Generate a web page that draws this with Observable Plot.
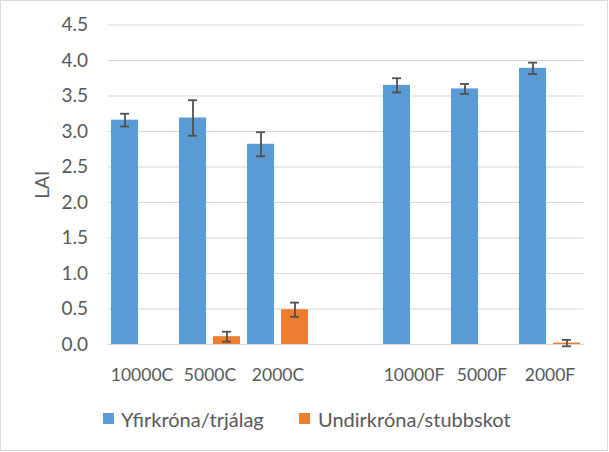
<!DOCTYPE html>
<html>
<head>
<meta charset="utf-8">
<script src="https://cdn.jsdelivr.net/npm/d3@7"></script>
<script src="https://cdn.jsdelivr.net/npm/@observablehq/plot@0.6"></script>
<style>
  html, body { margin: 0; padding: 0; background: #fff; }
  #wrap { position: relative; width: 609px; height: 452px; overflow: hidden; font-family: Lato, "Open Sans", sans-serif; color: #595959; }
  #border { position: absolute; left: 0; top: 0; width: 608px; height: 451px; box-sizing: border-box; border: 1px solid #D9D9D9; pointer-events: none; }
  #chart { position: absolute; left: 0; top: 0; }
  .leg { position: absolute; top: 409px; font-size: 20px; line-height: 20px; white-space: nowrap; }
  .sw { position: absolute; top: 413px; width: 11px; height: 11px; }
</style>
</head>
<body>
<div id="wrap">
  <div id="chart"></div>
  <div id="legend"></div>
  <div id="border"></div>
</div>
<script>
const categories = ["10000C", "5000C", "2000C", "", "10000F", "5000F", "2000F"];
const series = ["Yfirkróna/trjálag", "Undirkróna/stubbskot"];
const colors = ["#5B9BD5", "#ED7D31"];
const yfirMean = [3.16, 3.19, 2.82, null, 3.65, 3.60, 3.89];
const yfirErr  = [0.09, 0.25, 0.17, null, 0.10, 0.07, 0.08];
const undirMean = [null, 0.11, 0.49, null, null, null, 0.02];
const undirErr  = [null, 0.07, 0.10, null, null, null, 0.045];
const yTicks = [0, 0.5, 1, 1.5, 2, 2.5, 3, 3.5, 4, 4.5];

const means = [yfirMean, undirMean];
const errs = [yfirErr, undirErr];
const keys = categories.flatMap((c, i) => series.map((s, j) => `${i}|${j}`));
const rows = [];
categories.forEach((c, i) => {
  series.forEach((s, j) => {
    const m = means[j][i];
    if (m != null) rows.push({key: `${i}|${j}`, series: s, mean: m, lo: m - errs[j][i], hi: m + errs[j][i]});
  });
});

const plot = Plot.plot({
  width: 609,
  height: 395,
  marginLeft: 107.5,
  marginRight: 25.5,
  marginTop: 24.5,
  marginBottom: 51,
  style: {fontFamily: "Lato, 'Open Sans', sans-serif", fontSize: "18px", color: "#595959", background: "transparent"},
  x: {type: "band", domain: keys, paddingInner: 0.206, paddingOuter: 0.103},
  y: {domain: [0, 4.5]},
  color: {domain: series, range: colors},
  marks: [
    Plot.ruleY(yTicks, {stroke: "#D9D9D9", strokeWidth: 1.2}),
    Plot.barY(rows, {x: "key", y: "mean", fill: "series"}),
    Plot.ruleX(rows, {x: "key", y1: "lo", y2: "hi", stroke: "#505050", strokeWidth: 1.8}),
    Plot.tickY(rows, {x: "key", y: "lo", stroke: "#505050", strokeWidth: 1.8, insetLeft: 9, insetRight: 9}),
    Plot.tickY(rows, {x: "key", y: "hi", stroke: "#505050", strokeWidth: 1.8, insetLeft: 9, insetRight: 9}),
    Plot.axisX({
      ticks: keys.filter(k => k.endsWith("|0")),
      tickFormat: k => categories[+k.split("|")[0]],
      tickSize: 0, tickPadding: 24, dx: 17, fontSize: 17.5, label: null
    }),
    Plot.axisY({
      ticks: yTicks, tickFormat: d3.format(".1f"), tickSize: 0, tickPadding: 20,
      fontSize: 19, label: "LAI", labelAnchor: "center", labelArrow: "none", labelOffset: 73
    })
  ]
});
document.getElementById("chart").appendChild(plot);

const legend = document.getElementById("legend");
const legPos = [{sw: 103, tx: 121}, {sw: 299, tx: 318}];
series.forEach((s, j) => {
  const sw = document.createElement("div");
  sw.className = "sw";
  sw.style.left = legPos[j].sw + "px";
  sw.style.background = colors[j];
  legend.appendChild(sw);
  const t = document.createElement("div");
  t.className = "leg";
  t.style.left = legPos[j].tx + "px";
  t.textContent = s;
  legend.appendChild(t);
});
</script>
</body>
</html>
